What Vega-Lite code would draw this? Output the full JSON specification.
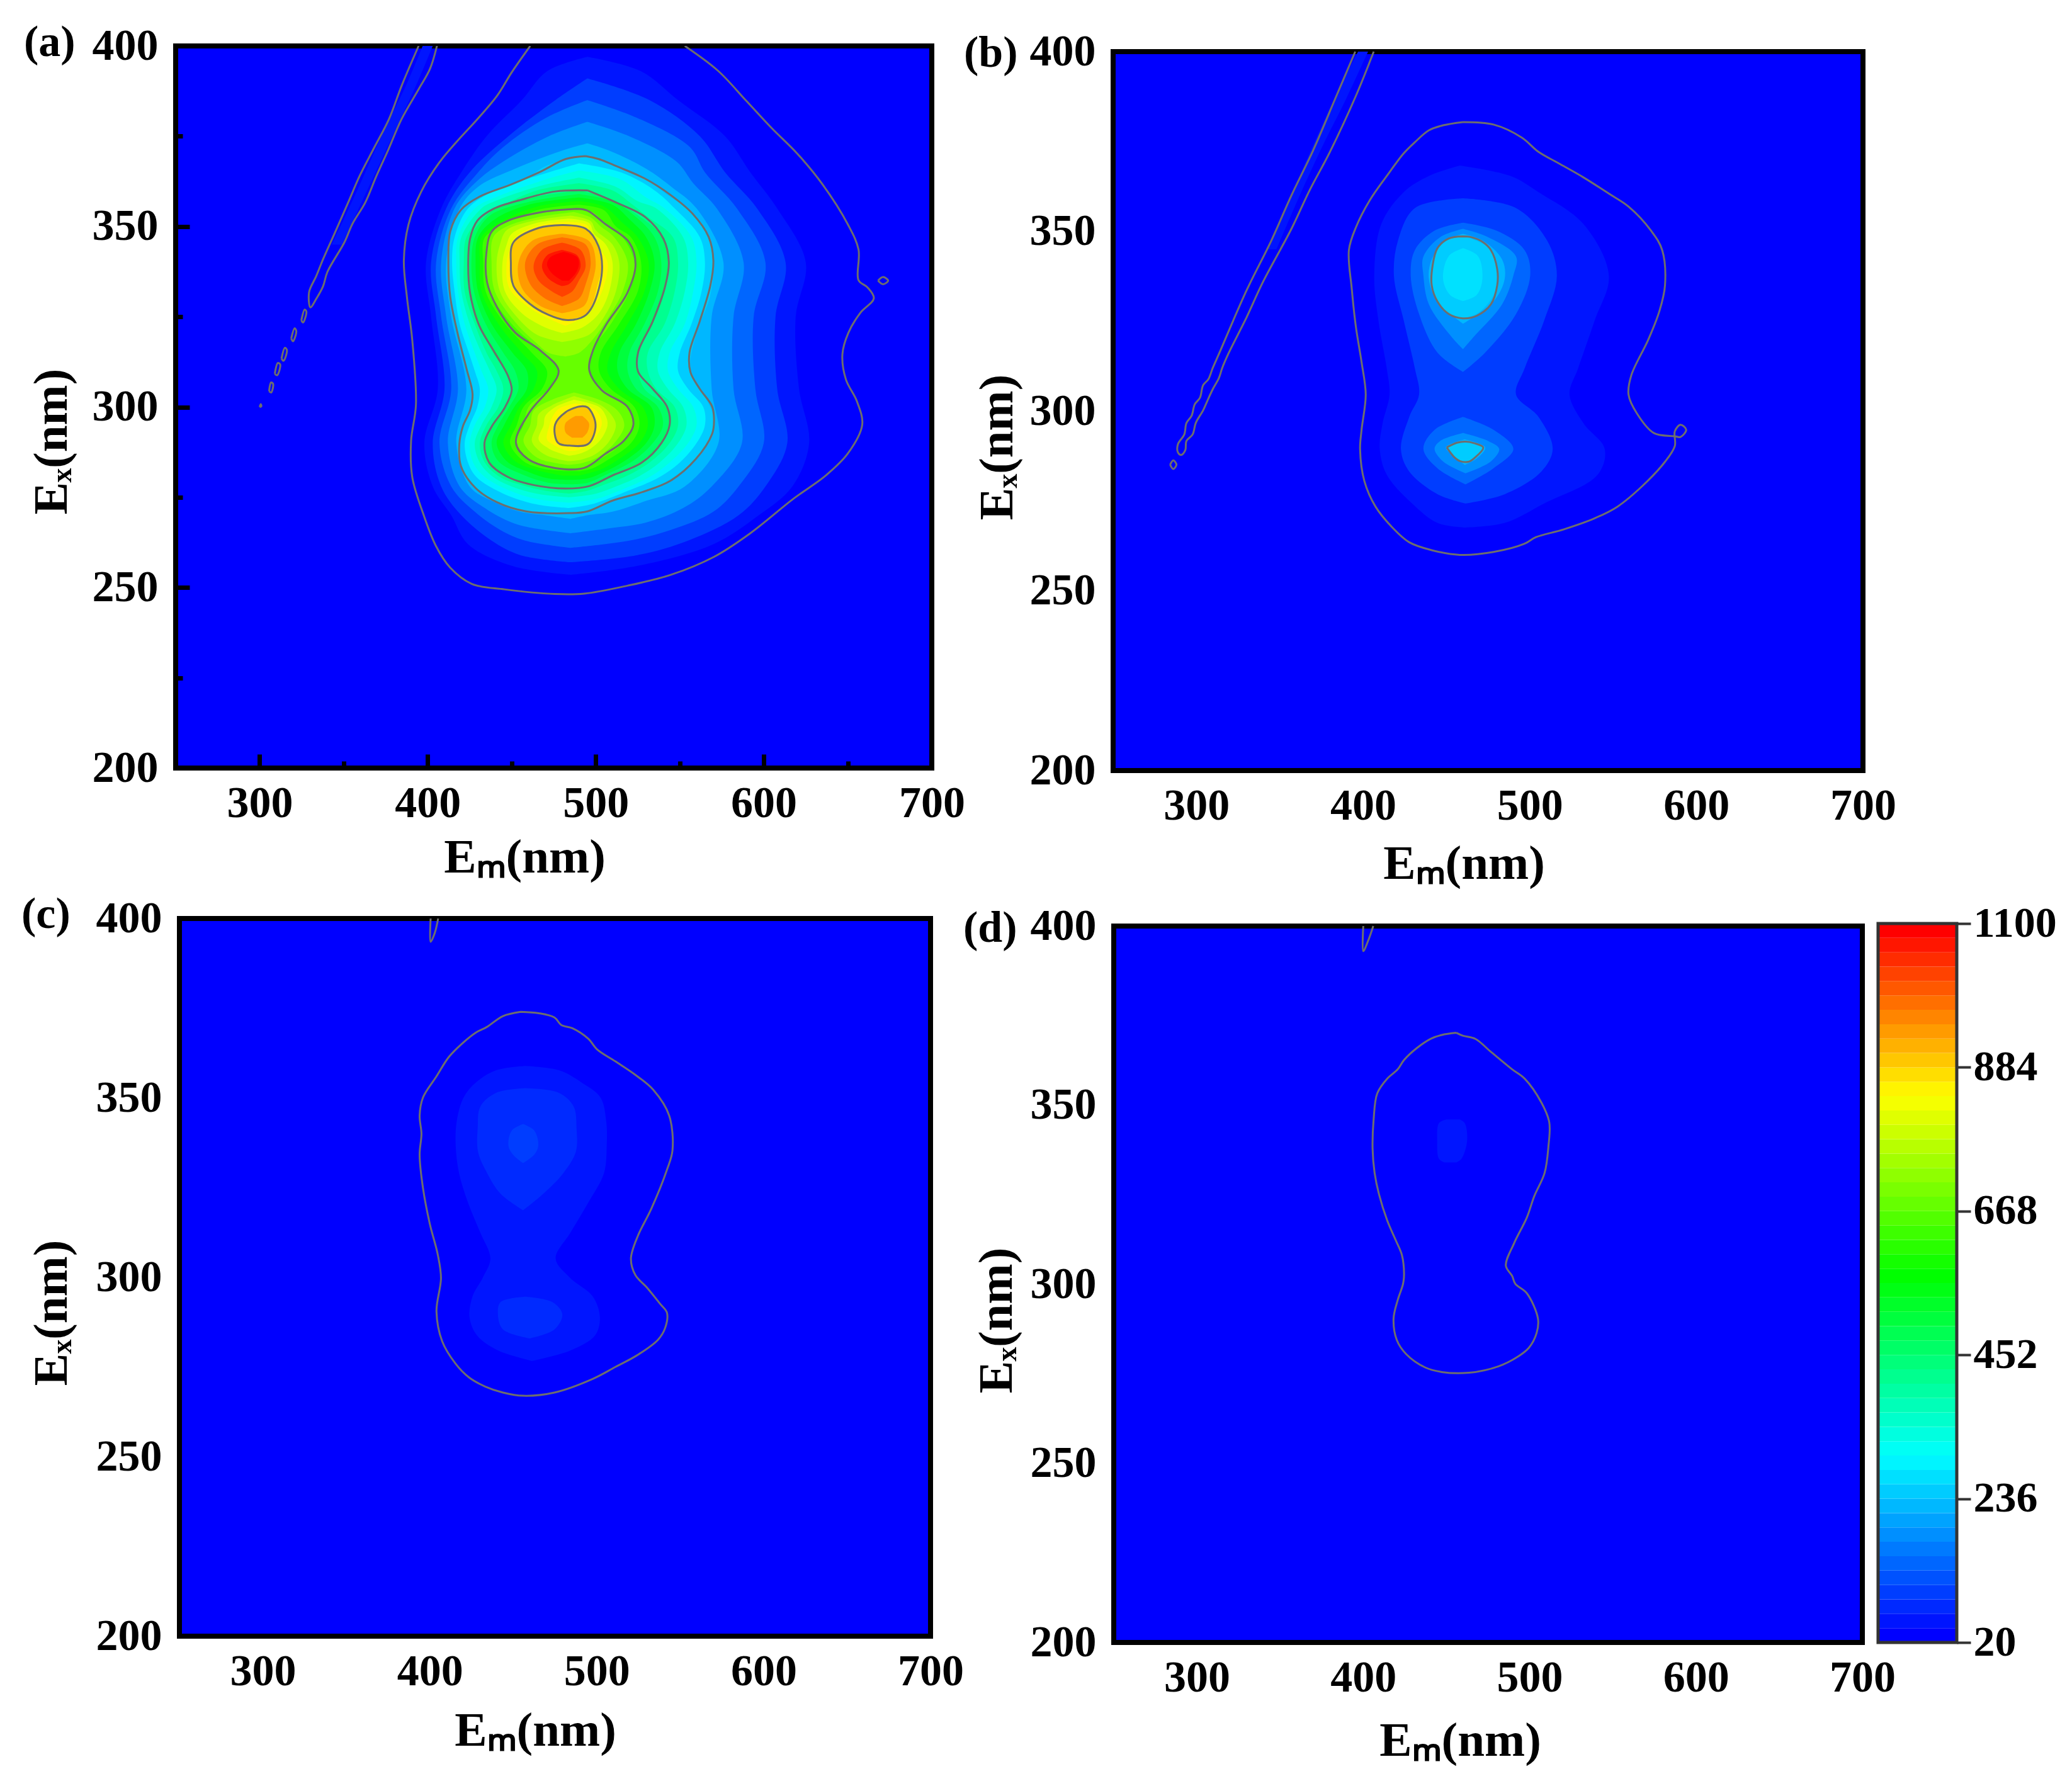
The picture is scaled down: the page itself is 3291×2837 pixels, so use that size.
{
"$schema":"https://vega.github.io/schema/vega-lite/v6.json",
"description":"Excitation-emission contour maps of four samples with a shared intensity colour bar.",
"background":"white",
"padding":{"left":34,"top":29,"right":0,"bottom":10},
"spacing":8,
"bounds":"full",
"align":"none",
"config":{
"view":{"fill":"#0000ff","stroke":"#000000","strokeWidth":8},
"axis":{"domain":false,"grid":false,"zindex":1,"tickColor":"#000000","tickWidth":7,"labelFont":"Liberation Serif","labelFontWeight":"bold","labelFontSize":70,"labelColor":"#000000","labelOverlap":false,"labelFlush":false,"labelBound":false,"titleFont":"Liberation Serif","titleFontWeight":"bold","titleFontSize":77,"titleColor":"#000000"},
"title":{"font":"Liberation Serif","fontWeight":"bold","fontSize":70,"color":"#000000","anchor":"start","frame":"group"},
"concat":{"spacing":0}
},
"datasets":{
"box":[{"x1":250,"x2":700,"y1":200,"y2":400}],
"barbox":[{"y1":20,"y2":1100}],
"bar":[{"z":20,"lo":20,"hi":41.6},{"z":41.6,"lo":41.6,"hi":63.2},{"z":63.2,"lo":63.2,"hi":84.8},{"z":84.8,"lo":84.8,"hi":106.4},{"z":106.4,"lo":106.4,"hi":128},{"z":128,"lo":128,"hi":149.6},{"z":149.6,"lo":149.6,"hi":171.2},{"z":171.2,"lo":171.2,"hi":192.8},{"z":192.8,"lo":192.8,"hi":214.4},{"z":214.4,"lo":214.4,"hi":236},{"z":236,"lo":236,"hi":257.6},{"z":257.6,"lo":257.6,"hi":279.2},{"z":279.2,"lo":279.2,"hi":300.8},{"z":300.8,"lo":300.8,"hi":322.4},{"z":322.4,"lo":322.4,"hi":344},{"z":344,"lo":344,"hi":365.6},{"z":365.6,"lo":365.6,"hi":387.2},{"z":387.2,"lo":387.2,"hi":408.8},{"z":408.8,"lo":408.8,"hi":430.4},{"z":430.4,"lo":430.4,"hi":452},{"z":452,"lo":452,"hi":473.6},{"z":473.6,"lo":473.6,"hi":495.2},{"z":495.2,"lo":495.2,"hi":516.8},{"z":516.8,"lo":516.8,"hi":538.4},{"z":538.4,"lo":538.4,"hi":560},{"z":560,"lo":560,"hi":581.6},{"z":581.6,"lo":581.6,"hi":603.2},{"z":603.2,"lo":603.2,"hi":624.8},{"z":624.8,"lo":624.8,"hi":646.4},{"z":646.4,"lo":646.4,"hi":668},{"z":668,"lo":668,"hi":689.6},{"z":689.6,"lo":689.6,"hi":711.2},{"z":711.2,"lo":711.2,"hi":732.8},{"z":732.8,"lo":732.8,"hi":754.4},{"z":754.4,"lo":754.4,"hi":776},{"z":776,"lo":776,"hi":797.6},{"z":797.6,"lo":797.6,"hi":819.2},{"z":819.2,"lo":819.2,"hi":840.8},{"z":840.8,"lo":840.8,"hi":862.4},{"z":862.4,"lo":862.4,"hi":884},{"z":884,"lo":884,"hi":905.6},{"z":905.6,"lo":905.6,"hi":927.2},{"z":927.2,"lo":927.2,"hi":948.8},{"z":948.8,"lo":948.8,"hi":970.4},{"z":970.4,"lo":970.4,"hi":992},{"z":992,"lo":992,"hi":1013.6},{"z":1013.6,"lo":1013.6,"hi":1035.2},{"z":1035.2,"lo":1035.2,"hi":1056.8},{"z":1056.8,"lo":1056.8,"hi":1078.4},{"z":1078.4,"lo":1078.4,"hi":1100}],
"fa":[
{"s":"r","z":42,"ex":345,"lo":343,"hi":349},{"s":"r","z":42,"ex":360,"lo":358,"hi":364},{"s":"r","z":42,"ex":375,"lo":372.5,"hi":379},{"s":"r","z":42,"ex":390,"lo":388,"hi":394},{"s":"r","z":42,"ex":400,"lo":397,"hi":403},
{"s":"42","z":42,"ex":397,"lo":495,"hi":495},{"s":"42","z":42,"ex":393,"lo":471,"hi":527},{"s":"42","z":42,"ex":385,"lo":456,"hi":549},{"s":"42","z":42,"ex":375,"lo":435,"hi":577},{"s":"42","z":42,"ex":365,"lo":420,"hi":592},{"s":"42","z":42,"ex":355,"lo":408,"hi":608},{"s":"42","z":42,"ex":340,"lo":399,"hi":625},{"s":"42","z":42,"ex":325,"lo":402,"hi":619},{"s":"42","z":42,"ex":305,"lo":406,"hi":621},{"s":"42","z":42,"ex":290,"lo":398,"hi":627},{"s":"42","z":42,"ex":278,"lo":403,"hi":617},{"s":"42","z":42,"ex":270,"lo":414,"hi":597},{"s":"42","z":42,"ex":262,"lo":424,"hi":570},{"s":"42","z":42,"ex":256,"lo":450,"hi":525},{"s":"42","z":42,"ex":253.5,"lo":485,"hi":485},
{"s":"85","z":85,"ex":391,"lo":495,"hi":495},{"s":"85","z":85,"ex":385,"lo":476,"hi":532},{"s":"85","z":85,"ex":375,"lo":448,"hi":562},{"s":"85","z":85,"ex":365,"lo":425,"hi":577},{"s":"85","z":85,"ex":355,"lo":411,"hi":596},{"s":"85","z":85,"ex":340,"lo":402,"hi":613},{"s":"85","z":85,"ex":325,"lo":405,"hi":607},{"s":"85","z":85,"ex":305,"lo":410,"hi":608},{"s":"85","z":85,"ex":290,"lo":403,"hi":614},{"s":"85","z":85,"ex":278,"lo":408,"hi":601},{"s":"85","z":85,"ex":270,"lo":420,"hi":585},{"s":"85","z":85,"ex":263,"lo":438,"hi":555},{"s":"85","z":85,"ex":259,"lo":455,"hi":525},{"s":"85","z":85,"ex":257,"lo":485,"hi":485},
{"s":"128","z":128,"ex":385,"lo":495,"hi":495},{"s":"128","z":128,"ex":380,"lo":470,"hi":525},{"s":"128","z":128,"ex":372,"lo":445,"hi":556},{"s":"128","z":128,"ex":365,"lo":430,"hi":565},{"s":"128","z":128,"ex":355,"lo":414,"hi":584},{"s":"128","z":128,"ex":340,"lo":405,"hi":601},{"s":"128","z":128,"ex":325,"lo":408,"hi":594},{"s":"128","z":128,"ex":305,"lo":414,"hi":595},{"s":"128","z":128,"ex":290,"lo":407,"hi":600},{"s":"128","z":128,"ex":278,"lo":414,"hi":585},{"s":"128","z":128,"ex":271,"lo":428,"hi":570},{"s":"128","z":128,"ex":266,"lo":443,"hi":545},{"s":"128","z":128,"ex":263,"lo":458,"hi":520},{"s":"128","z":128,"ex":261,"lo":485,"hi":485},
{"s":"171","z":171,"ex":379,"lo":495,"hi":495},{"s":"171","z":171,"ex":375,"lo":472,"hi":520},{"s":"171","z":171,"ex":368,"lo":445,"hi":548},{"s":"171","z":171,"ex":362,"lo":428,"hi":558},{"s":"171","z":171,"ex":355,"lo":416,"hi":572},{"s":"171","z":171,"ex":340,"lo":408,"hi":588},{"s":"171","z":171,"ex":325,"lo":411,"hi":582},{"s":"171","z":171,"ex":305,"lo":418,"hi":582},{"s":"171","z":171,"ex":290,"lo":412,"hi":587},{"s":"171","z":171,"ex":278,"lo":419,"hi":569},{"s":"171","z":171,"ex":272,"lo":434,"hi":552},{"s":"171","z":171,"ex":268,"lo":450,"hi":530},{"s":"171","z":171,"ex":266.5,"lo":462,"hi":510},{"s":"171","z":171,"ex":265,"lo":485,"hi":485},
{"s":"214","z":214,"ex":373,"lo":495,"hi":495},{"s":"214","z":214,"ex":371,"lo":480,"hi":508},{"s":"214","z":214,"ex":366,"lo":452,"hi":530},{"s":"214","z":214,"ex":361,"lo":430,"hi":545},{"s":"214","z":214,"ex":355,"lo":419,"hi":560},{"s":"214","z":214,"ex":340,"lo":411,"hi":576},{"s":"214","z":214,"ex":325,"lo":414,"hi":569},{"s":"214","z":214,"ex":305,"lo":423,"hi":569},{"s":"214","z":214,"ex":290,"lo":417,"hi":573},{"s":"214","z":214,"ex":278,"lo":425,"hi":553},{"s":"214","z":214,"ex":274,"lo":438,"hi":530},{"s":"214","z":214,"ex":271,"lo":455,"hi":510},{"s":"214","z":214,"ex":270,"lo":470,"hi":495},{"s":"214","z":214,"ex":269,"lo":485,"hi":485},
{"s":"236","z":236,"ex":369.5,"lo":494,"hi":494},{"s":"236","z":236,"ex":366.7,"lo":470,"hi":512},{"s":"236","z":236,"ex":363,"lo":458,"hi":530},{"s":"236","z":236,"ex":358,"lo":430,"hi":545},{"s":"236","z":236,"ex":354.6,"lo":420,"hi":556},{"s":"236","z":236,"ex":348.6,"lo":413.4,"hi":566},{"s":"236","z":236,"ex":340.6,"lo":412.3,"hi":570},{"s":"236","z":236,"ex":330.6,"lo":413.4,"hi":568},{"s":"236","z":236,"ex":320.6,"lo":417.7,"hi":560},{"s":"236","z":236,"ex":310.6,"lo":423,"hi":556.4},{"s":"236","z":236,"ex":303.6,"lo":426.7,"hi":564},{"s":"236","z":236,"ex":299,"lo":425,"hi":569},{"s":"236","z":236,"ex":294.6,"lo":421,"hi":570},{"s":"236","z":236,"ex":289.6,"lo":419,"hi":566},{"s":"236","z":236,"ex":283.6,"lo":420,"hi":555},{"s":"236","z":236,"ex":277.6,"lo":428,"hi":535},{"s":"236","z":236,"ex":274,"lo":441,"hi":510},{"s":"236","z":236,"ex":271,"lo":458,"hi":495},{"s":"236","z":236,"ex":270.6,"lo":484,"hi":484},
{"s":"279","z":279,"ex":367.5,"lo":490,"hi":490},{"s":"279","z":279,"ex":365,"lo":472,"hi":515},{"s":"279","z":279,"ex":360,"lo":440,"hi":535},{"s":"279","z":279,"ex":355,"lo":424,"hi":547},{"s":"279","z":279,"ex":347,"lo":416,"hi":562},{"s":"279","z":279,"ex":340,"lo":414.5,"hi":565},{"s":"279","z":279,"ex":332,"lo":416,"hi":563},{"s":"279","z":279,"ex":323,"lo":419,"hi":557},{"s":"279","z":279,"ex":315,"lo":424.5,"hi":550},{"s":"279","z":279,"ex":310,"lo":428,"hi":549},{"s":"279","z":279,"ex":305,"lo":431,"hi":555},{"s":"279","z":279,"ex":300,"lo":429.5,"hi":564},{"s":"279","z":279,"ex":295,"lo":425,"hi":565},{"s":"279","z":279,"ex":290,"lo":422,"hi":560},{"s":"279","z":279,"ex":284.6,"lo":424,"hi":550},{"s":"279","z":279,"ex":280.6,"lo":429,"hi":538},{"s":"279","z":279,"ex":276,"lo":445,"hi":515},{"s":"279","z":279,"ex":273,"lo":465,"hi":497},{"s":"279","z":279,"ex":272,"lo":484,"hi":484},
{"s":"322","z":322,"ex":365.5,"lo":490,"hi":490},{"s":"322","z":322,"ex":363,"lo":470,"hi":515},{"s":"322","z":322,"ex":358,"lo":440,"hi":530},{"s":"322","z":322,"ex":355,"lo":428,"hi":541},{"s":"322","z":322,"ex":347,"lo":418,"hi":557},{"s":"322","z":322,"ex":340,"lo":417,"hi":560},{"s":"322","z":322,"ex":332,"lo":418,"hi":558},{"s":"322","z":322,"ex":323,"lo":422,"hi":553},{"s":"322","z":322,"ex":315,"lo":428,"hi":544},{"s":"322","z":322,"ex":310,"lo":432,"hi":543},{"s":"322","z":322,"ex":305,"lo":436,"hi":549},{"s":"322","z":322,"ex":300,"lo":434,"hi":558},{"s":"322","z":322,"ex":295,"lo":428,"hi":560},{"s":"322","z":322,"ex":290,"lo":425,"hi":555},{"s":"322","z":322,"ex":284.6,"lo":427,"hi":544},{"s":"322","z":322,"ex":280.6,"lo":434,"hi":532},{"s":"322","z":322,"ex":277,"lo":448,"hi":515},{"s":"322","z":322,"ex":274.5,"lo":465,"hi":500},{"s":"322","z":322,"ex":273.5,"lo":484,"hi":484},
{"s":"365","z":365,"ex":363.5,"lo":490,"hi":490},{"s":"365","z":365,"ex":361,"lo":465,"hi":512},{"s":"365","z":365,"ex":357,"lo":440,"hi":525},{"s":"365","z":365,"ex":355,"lo":432,"hi":536},{"s":"365","z":365,"ex":347,"lo":420,"hi":552},{"s":"365","z":365,"ex":340,"lo":419,"hi":555},{"s":"365","z":365,"ex":332,"lo":420,"hi":553},{"s":"365","z":365,"ex":323,"lo":425,"hi":547},{"s":"365","z":365,"ex":315,"lo":432,"hi":538},{"s":"365","z":365,"ex":310,"lo":437,"hi":537},{"s":"365","z":365,"ex":305,"lo":441,"hi":543},{"s":"365","z":365,"ex":300,"lo":438,"hi":552},{"s":"365","z":365,"ex":295,"lo":432,"hi":554},{"s":"365","z":365,"ex":290,"lo":428,"hi":549},{"s":"365","z":365,"ex":284.6,"lo":431,"hi":538},{"s":"365","z":365,"ex":280.6,"lo":439,"hi":525},{"s":"365","z":365,"ex":278,"lo":450,"hi":512},{"s":"365","z":365,"ex":276,"lo":465,"hi":500},{"s":"365","z":365,"ex":275,"lo":484,"hi":484},
{"s":"408","z":408,"ex":362,"lo":490,"hi":490},{"s":"408","z":408,"ex":360,"lo":465,"hi":510},{"s":"408","z":408,"ex":356,"lo":445,"hi":522},{"s":"408","z":408,"ex":353,"lo":433,"hi":530},{"s":"408","z":408,"ex":347,"lo":423,"hi":546},{"s":"408","z":408,"ex":340,"lo":421.5,"hi":549},{"s":"408","z":408,"ex":332,"lo":422,"hi":547},{"s":"408","z":408,"ex":323,"lo":428,"hi":541},{"s":"408","z":408,"ex":315,"lo":435,"hi":531},{"s":"408","z":408,"ex":310,"lo":441,"hi":531},{"s":"408","z":408,"ex":305,"lo":445,"hi":536},{"s":"408","z":408,"ex":300,"lo":442,"hi":547},{"s":"408","z":408,"ex":295,"lo":435,"hi":549},{"s":"408","z":408,"ex":290,"lo":431,"hi":544},{"s":"408","z":408,"ex":284.6,"lo":434,"hi":532},{"s":"408","z":408,"ex":280.6,"lo":443,"hi":517},{"s":"408","z":408,"ex":278.5,"lo":455,"hi":505},{"s":"408","z":408,"ex":276.8,"lo":470,"hi":495},{"s":"408","z":408,"ex":276,"lo":484,"hi":484},
{"s":"452","z":452,"ex":360,"lo":490,"hi":490},{"s":"452","z":452,"ex":357.5,"lo":456,"hi":510},{"s":"452","z":452,"ex":355,"lo":440,"hi":519},{"s":"452","z":452,"ex":347,"lo":425.5,"hi":540},{"s":"452","z":452,"ex":340,"lo":424,"hi":543.5},{"s":"452","z":452,"ex":332,"lo":425,"hi":541},{"s":"452","z":452,"ex":323,"lo":430.6,"hi":534},{"s":"452","z":452,"ex":315,"lo":439,"hi":525},{"s":"452","z":452,"ex":310,"lo":446,"hi":525},{"s":"452","z":452,"ex":305,"lo":450,"hi":529},{"s":"452","z":452,"ex":300,"lo":445.6,"hi":542},{"s":"452","z":452,"ex":295,"lo":438,"hi":544},{"s":"452","z":452,"ex":290,"lo":434,"hi":539},{"s":"452","z":452,"ex":284.6,"lo":437,"hi":527},{"s":"452","z":452,"ex":280.6,"lo":448,"hi":510},{"s":"452","z":452,"ex":278,"lo":470,"hi":496},{"s":"452","z":452,"ex":277.4,"lo":482,"hi":482},
{"s":"495","z":495,"ex":359,"lo":490,"hi":490},{"s":"495","z":495,"ex":357,"lo":462,"hi":510},{"s":"495","z":495,"ex":353,"lo":437,"hi":523},{"s":"495","z":495,"ex":347,"lo":428,"hi":535},{"s":"495","z":495,"ex":340,"lo":426,"hi":539},{"s":"495","z":495,"ex":332,"lo":427.5,"hi":537},{"s":"495","z":495,"ex":323,"lo":434.5,"hi":529},{"s":"495","z":495,"ex":315,"lo":445,"hi":520},{"s":"495","z":495,"ex":310,"lo":452,"hi":519},{"s":"495","z":495,"ex":305,"lo":454,"hi":524},{"s":"495","z":495,"ex":300,"lo":448.5,"hi":537},{"s":"495","z":495,"ex":295,"lo":442,"hi":540},{"s":"495","z":495,"ex":290,"lo":438,"hi":534},{"s":"495","z":495,"ex":285,"lo":442,"hi":522},{"s":"495","z":495,"ex":281,"lo":458,"hi":505},{"s":"495","z":495,"ex":279,"lo":472,"hi":495},{"s":"495","z":495,"ex":278.6,"lo":484,"hi":484},
{"s":"538","z":538,"ex":358,"lo":490,"hi":490},{"s":"538","z":538,"ex":356,"lo":460,"hi":510},{"s":"538","z":538,"ex":352,"lo":440,"hi":520},{"s":"538","z":538,"ex":347,"lo":430,"hi":530},{"s":"538","z":538,"ex":340,"lo":428.5,"hi":535},{"s":"538","z":538,"ex":332,"lo":430,"hi":532},{"s":"538","z":538,"ex":323,"lo":438,"hi":524},{"s":"538","z":538,"ex":315,"lo":450.5,"hi":514},{"s":"538","z":538,"ex":310,"lo":459,"hi":513},{"s":"538","z":538,"ex":305,"lo":459,"hi":519},{"s":"538","z":538,"ex":300,"lo":451.5,"hi":533},{"s":"538","z":538,"ex":295,"lo":445.5,"hi":535},{"s":"538","z":538,"ex":290,"lo":441,"hi":530},{"s":"538","z":538,"ex":285,"lo":447,"hi":517},{"s":"538","z":538,"ex":282,"lo":460,"hi":505},{"s":"538","z":538,"ex":280.2,"lo":472,"hi":495},{"s":"538","z":538,"ex":279.8,"lo":484,"hi":484},
{"s":"581","z":581,"ex":357,"lo":490,"hi":490},{"s":"581","z":581,"ex":355.5,"lo":465,"hi":505},{"s":"581","z":581,"ex":351,"lo":442,"hi":516},{"s":"581","z":581,"ex":347,"lo":432,"hi":525},{"s":"581","z":581,"ex":340,"lo":431,"hi":531.5},{"s":"581","z":581,"ex":332,"lo":432,"hi":529},{"s":"581","z":581,"ex":323,"lo":442,"hi":519},{"s":"581","z":581,"ex":315,"lo":456,"hi":509},{"s":"581","z":581,"ex":310,"lo":465,"hi":507},{"s":"581","z":581,"ex":305,"lo":463,"hi":514},{"s":"581","z":581,"ex":300,"lo":454.5,"hi":528},{"s":"581","z":581,"ex":295,"lo":449.5,"hi":531},{"s":"581","z":581,"ex":290,"lo":445,"hi":526},{"s":"581","z":581,"ex":285,"lo":452,"hi":512},{"s":"581","z":581,"ex":282.5,"lo":465,"hi":502},{"s":"581","z":581,"ex":281,"lo":480,"hi":490},
{"s":"625","z":625,"ex":356,"lo":490,"hi":490},{"s":"625","z":625,"ex":354.5,"lo":465,"hi":505},{"s":"625","z":625,"ex":350,"lo":445,"hi":512},{"s":"625","z":625,"ex":347,"lo":434,"hi":521},{"s":"625","z":625,"ex":340,"lo":433,"hi":527},{"s":"625","z":625,"ex":332,"lo":434.5,"hi":525},{"s":"625","z":625,"ex":323,"lo":446,"hi":514},{"s":"625","z":625,"ex":315,"lo":462,"hi":503},{"s":"625","z":625,"ex":310,"lo":471,"hi":502},{"s":"625","z":625,"ex":305,"lo":468,"hi":509},{"s":"625","z":625,"ex":300,"lo":457,"hi":523},{"s":"625","z":625,"ex":295,"lo":453,"hi":526},{"s":"625","z":625,"ex":290,"lo":449,"hi":521},{"s":"625","z":625,"ex":285,"lo":457,"hi":506},{"s":"625","z":625,"ex":283,"lo":468,"hi":498},{"s":"625","z":625,"ex":282.2,"lo":482,"hi":490},
{"s":"668","z":668,"ex":354.9,"lo":489,"hi":489},{"s":"668","z":668,"ex":354,"lo":469,"hi":498},{"s":"668","z":668,"ex":351.6,"lo":448,"hi":504},{"s":"668","z":668,"ex":347,"lo":436,"hi":516},{"s":"668","z":668,"ex":340,"lo":435,"hi":523},{"s":"668","z":668,"ex":332,"lo":437,"hi":520},{"s":"668","z":668,"ex":323,"lo":450,"hi":509},{"s":"668","z":668,"ex":315.6,"lo":467,"hi":498},{"s":"668","z":668,"ex":310,"lo":478,"hi":496},{"s":"668","z":668,"ex":305,"lo":472,"hi":504},{"s":"668","z":668,"ex":300,"lo":460,"hi":519},{"s":"668","z":668,"ex":295,"lo":457,"hi":522},{"s":"668","z":668,"ex":290,"lo":452.5,"hi":516},{"s":"668","z":668,"ex":285.6,"lo":460,"hi":503},{"s":"668","z":668,"ex":283.1,"lo":476,"hi":493},
{"s":"711u","z":711,"ex":354,"lo":487,"hi":487},{"s":"711u","z":711,"ex":352.5,"lo":465,"hi":497},{"s":"711u","z":711,"ex":350,"lo":447,"hi":503},{"s":"711u","z":711,"ex":347,"lo":439,"hi":511},{"s":"711u","z":711,"ex":340,"lo":438,"hi":519},{"s":"711u","z":711,"ex":332,"lo":440,"hi":516},{"s":"711u","z":711,"ex":323,"lo":453,"hi":505},{"s":"711u","z":711,"ex":318,"lo":464,"hi":497},{"s":"711u","z":711,"ex":315,"lo":472,"hi":490},{"s":"711u","z":711,"ex":314,"lo":482,"hi":482},
{"s":"711l","z":711,"ex":304,"lo":487,"hi":487},{"s":"711l","z":711,"ex":302,"lo":474,"hi":502},{"s":"711l","z":711,"ex":299,"lo":463,"hi":513},{"s":"711l","z":711,"ex":295,"lo":461,"hi":517},{"s":"711l","z":711,"ex":290.5,"lo":457,"hi":512},{"s":"711l","z":711,"ex":286,"lo":465,"hi":501},{"s":"711l","z":711,"ex":284.5,"lo":476,"hi":492},{"s":"711l","z":711,"ex":284,"lo":484,"hi":484},
{"s":"754u","z":754,"ex":353,"lo":485,"hi":485},{"s":"754u","z":754,"ex":351.5,"lo":462,"hi":497},{"s":"754u","z":754,"ex":349,"lo":447,"hi":500},{"s":"754u","z":754,"ex":345,"lo":443,"hi":510},{"s":"754u","z":754,"ex":340,"lo":441,"hi":514},{"s":"754u","z":754,"ex":332,"lo":443,"hi":512},{"s":"754u","z":754,"ex":325,"lo":453,"hi":505},{"s":"754u","z":754,"ex":320,"lo":465,"hi":496},{"s":"754u","z":754,"ex":318,"lo":480,"hi":480},
{"s":"754l","z":754,"ex":303,"lo":487,"hi":487},{"s":"754l","z":754,"ex":300.5,"lo":474,"hi":503},{"s":"754l","z":754,"ex":298,"lo":466,"hi":509},{"s":"754l","z":754,"ex":295,"lo":465,"hi":512},{"s":"754l","z":754,"ex":290.5,"lo":462,"hi":508},{"s":"754l","z":754,"ex":287,"lo":469,"hi":500},{"s":"754l","z":754,"ex":285.5,"lo":478,"hi":492},{"s":"754l","z":754,"ex":285,"lo":484,"hi":484},
{"s":"798u","z":798,"ex":352.2,"lo":484,"hi":484},{"s":"798u","z":798,"ex":351,"lo":465,"hi":496},{"s":"798u","z":798,"ex":348,"lo":450,"hi":499},{"s":"798u","z":798,"ex":345,"lo":447,"hi":506},{"s":"798u","z":798,"ex":340,"lo":444.5,"hi":510},{"s":"798u","z":798,"ex":332,"lo":446,"hi":508},{"s":"798u","z":798,"ex":326,"lo":456,"hi":502},{"s":"798u","z":798,"ex":322,"lo":470,"hi":492},{"s":"798u","z":798,"ex":320.5,"lo":480,"hi":480},
{"s":"798l","z":798,"ex":302,"lo":487,"hi":487},{"s":"798l","z":798,"ex":300,"lo":476,"hi":502},{"s":"798l","z":798,"ex":297.5,"lo":470,"hi":506},{"s":"798l","z":798,"ex":295,"lo":469,"hi":507},{"s":"798l","z":798,"ex":291,"lo":466,"hi":503},{"s":"798l","z":798,"ex":288.5,"lo":472,"hi":497},{"s":"798l","z":798,"ex":287,"lo":480,"hi":490},{"s":"798l","z":798,"ex":286.5,"lo":484,"hi":484},
{"s":"841u","z":841,"ex":351.3,"lo":482,"hi":482},{"s":"841u","z":841,"ex":350.3,"lo":466,"hi":495},{"s":"841u","z":841,"ex":347,"lo":452,"hi":497},{"s":"841u","z":841,"ex":344,"lo":449,"hi":502},{"s":"841u","z":841,"ex":340,"lo":447,"hi":507},{"s":"841u","z":841,"ex":333,"lo":448.5,"hi":504.5},{"s":"841u","z":841,"ex":328,"lo":459,"hi":499},{"s":"841u","z":841,"ex":324.5,"lo":472,"hi":491},{"s":"841u","z":841,"ex":322.5,"lo":482,"hi":482},
{"s":"841l","z":841,"ex":301,"lo":488,"hi":488},{"s":"841l","z":841,"ex":299.5,"lo":478,"hi":499},{"s":"841l","z":841,"ex":297,"lo":474,"hi":503},{"s":"841l","z":841,"ex":295,"lo":472.5,"hi":503.5},{"s":"841l","z":841,"ex":291,"lo":471,"hi":499},{"s":"841l","z":841,"ex":289.5,"lo":475,"hi":496},{"s":"841l","z":841,"ex":288,"lo":482,"hi":489},{"s":"841l","z":841,"ex":287.8,"lo":484,"hi":484},
{"s":"884u","z":884,"ex":350.4,"lo":480,"hi":480},{"s":"884u","z":884,"ex":349.6,"lo":466,"hi":494},{"s":"884u","z":884,"ex":345.6,"lo":451,"hi":500.5},{"s":"884u","z":884,"ex":339.6,"lo":449.5,"hi":503.7},{"s":"884u","z":884,"ex":333.6,"lo":451,"hi":501},{"s":"884u","z":884,"ex":328.6,"lo":461,"hi":498},{"s":"884u","z":884,"ex":325.6,"lo":471.5,"hi":494},{"s":"884u","z":884,"ex":324.1,"lo":482,"hi":482},
{"s":"884l","z":884,"ex":300.1,"lo":490,"hi":494},{"s":"884l","z":884,"ex":298.6,"lo":482,"hi":497},{"s":"884l","z":884,"ex":295,"lo":475.8,"hi":500},{"s":"884l","z":884,"ex":290,"lo":477.5,"hi":495.6},{"s":"884l","z":884,"ex":289.3,"lo":484,"hi":490},
{"s":"927l","z":927,"ex":297.5,"lo":488,"hi":492},{"s":"927l","z":927,"ex":295.5,"lo":482,"hi":496},{"s":"927l","z":927,"ex":293,"lo":482,"hi":495},{"s":"927l","z":927,"ex":291.5,"lo":486,"hi":492},
{"s":"927u","z":927,"ex":348,"lo":480,"hi":480},{"s":"927u","z":927,"ex":346,"lo":462,"hi":496},{"s":"927u","z":927,"ex":340,"lo":454,"hi":500},{"s":"927u","z":927,"ex":333,"lo":456,"hi":497},{"s":"927u","z":927,"ex":328,"lo":467,"hi":493},{"s":"927u","z":927,"ex":326,"lo":480,"hi":480},
{"s":"970","z":970,"ex":347,"lo":480,"hi":480},{"s":"970","z":970,"ex":345,"lo":465,"hi":494},{"s":"970","z":970,"ex":340,"lo":458,"hi":497},{"s":"970","z":970,"ex":334,"lo":461,"hi":494},{"s":"970","z":970,"ex":330,"lo":470,"hi":490},{"s":"970","z":970,"ex":328,"lo":480,"hi":480},
{"s":"1014","z":1014,"ex":345.5,"lo":480,"hi":480},{"s":"1014","z":1014,"ex":343.5,"lo":468,"hi":491},{"s":"1014","z":1014,"ex":339,"lo":463,"hi":494},{"s":"1014","z":1014,"ex":335,"lo":466,"hi":490},{"s":"1014","z":1014,"ex":332,"lo":474,"hi":486},{"s":"1014","z":1014,"ex":330.5,"lo":480,"hi":480},
{"s":"1057","z":1057,"ex":343.5,"lo":480,"hi":480},{"s":"1057","z":1057,"ex":342,"lo":471,"hi":489},{"s":"1057","z":1057,"ex":339,"lo":468,"hi":491},{"s":"1057","z":1057,"ex":336,"lo":471,"hi":488},{"s":"1057","z":1057,"ex":334,"lo":477,"hi":484},{"s":"1057","z":1057,"ex":333.5,"lo":480,"hi":480},
{"s":"1079","z":1079,"ex":343,"lo":481,"hi":481},{"s":"1079","z":1079,"ex":341.5,"lo":473,"hi":489},{"s":"1079","z":1079,"ex":339.5,"lo":471,"hi":490},{"s":"1079","z":1079,"ex":337,"lo":474,"hi":488},{"s":"1079","z":1079,"ex":335,"lo":480,"hi":484}
],
"fb":[
{"s":"r","z":42,"ex":345,"lo":343,"hi":348},{"s":"r","z":42,"ex":360,"lo":357,"hi":362},{"s":"r","z":42,"ex":375,"lo":371,"hi":377},{"s":"r","z":42,"ex":387,"lo":383,"hi":390},{"s":"r","z":42,"ex":400,"lo":397,"hi":403},
{"s":"42","z":42,"ex":368.3,"lo":458,"hi":458},{"s":"42","z":42,"ex":365.4,"lo":439.5,"hi":488.5},{"s":"42","z":42,"ex":360.9,"lo":424.4,"hi":505.3},{"s":"42","z":42,"ex":352,"lo":410.9,"hi":532.3},{"s":"42","z":42,"ex":337.7,"lo":406.7,"hi":547.5},{"s":"42","z":42,"ex":325.2,"lo":409.2,"hi":539},{"s":"42","z":42,"ex":311.8,"lo":414.2,"hi":529},{"s":"42","z":42,"ex":304.6,"lo":415.9,"hi":523.9},{"s":"42","z":42,"ex":296.6,"lo":411.7,"hi":532.3},{"s":"42","z":42,"ex":289.5,"lo":410,"hi":545},{"s":"42","z":42,"ex":282.3,"lo":414.2,"hi":540.8},{"s":"42","z":42,"ex":274.3,"lo":429.4,"hi":508.7},{"s":"42","z":42,"ex":268.9,"lo":444.6,"hi":485.1},{"s":"42","z":42,"ex":267.6,"lo":461.5,"hi":461.5},
{"s":"85","z":85,"ex":359.2,"lo":460,"hi":460},{"s":"85","z":85,"ex":356.5,"lo":431.1,"hi":491.8},{"s":"85","z":85,"ex":347.5,"lo":421,"hi":510.4},{"s":"85","z":85,"ex":337.7,"lo":418.5,"hi":516.3},{"s":"85","z":85,"ex":325.2,"lo":424.4,"hi":508.7},{"s":"85","z":85,"ex":311.8,"lo":431.1,"hi":496.9},{"s":"85","z":85,"ex":304.6,"lo":433.6,"hi":491.8},{"s":"85","z":85,"ex":298.4,"lo":427.7,"hi":505.3},{"s":"85","z":85,"ex":289.5,"lo":422.7,"hi":513.8},{"s":"85","z":85,"ex":283.2,"lo":427.7,"hi":507},{"s":"85","z":85,"ex":276.9,"lo":444.6,"hi":485.1},{"s":"85","z":85,"ex":274.3,"lo":461.5,"hi":461.5},
{"s":"128u","z":128,"ex":352.4,"lo":460,"hi":460},{"s":"128u","z":128,"ex":350.2,"lo":442.9,"hi":480},{"s":"128u","z":128,"ex":344.8,"lo":431.1,"hi":496.9},{"s":"128u","z":128,"ex":337.7,"lo":428.6,"hi":500.3},{"s":"128u","z":128,"ex":327,"lo":433.6,"hi":491.8},{"s":"128u","z":128,"ex":316.3,"lo":444.6,"hi":473.3},{"s":"128u","z":128,"ex":310.9,"lo":460,"hi":460},
{"s":"128l","z":128,"ex":298.4,"lo":460,"hi":460},{"s":"128l","z":128,"ex":294.8,"lo":442.9,"hi":478.3},{"s":"128l","z":128,"ex":289.5,"lo":436.2,"hi":490.2},{"s":"128l","z":128,"ex":284.1,"lo":444.6,"hi":478.3},{"s":"128l","z":128,"ex":279.6,"lo":461.5,"hi":461.5},
{"s":"171u","z":171,"ex":350.7,"lo":460,"hi":460},{"s":"171u","z":171,"ex":348.4,"lo":446.3,"hi":475},{"s":"171u","z":171,"ex":343,"lo":436.2,"hi":491.8},{"s":"171u","z":171,"ex":337.7,"lo":436.2,"hi":490.2},{"s":"171u","z":171,"ex":329.7,"lo":439.5,"hi":483.4},{"s":"171u","z":171,"ex":320.7,"lo":453,"hi":466.5},{"s":"171u","z":171,"ex":317.2,"lo":460,"hi":460},
{"s":"171l","z":171,"ex":293.9,"lo":460,"hi":460},{"s":"171l","z":171,"ex":291.7,"lo":446.3,"hi":475},{"s":"171l","z":171,"ex":289.5,"lo":442.9,"hi":481.7},{"s":"171l","z":171,"ex":286,"lo":448,"hi":476.7},{"s":"171l","z":171,"ex":282.7,"lo":461.5,"hi":461.5},
{"s":"214u","z":214,"ex":349.3,"lo":460,"hi":460},{"s":"214u","z":214,"ex":347.5,"lo":449.7,"hi":471.6},{"s":"214u","z":214,"ex":342.2,"lo":441.2,"hi":483.4},{"s":"214u","z":214,"ex":336.8,"lo":439.5,"hi":485},{"s":"214u","z":214,"ex":330.5,"lo":444.6,"hi":478.3},{"s":"214u","z":214,"ex":324.3,"lo":460,"hi":460},
{"s":"214l","z":214,"ex":292.1,"lo":461,"hi":461},{"s":"214l","z":214,"ex":289.9,"lo":449.7,"hi":473.3},{"s":"214l","z":214,"ex":286.8,"lo":456.4,"hi":468.2},{"s":"214l","z":214,"ex":285,"lo":461,"hi":461},
{"s":"236u","z":236,"ex":348.6,"lo":459.8,"hi":459.8},{"s":"236u","z":236,"ex":348,"lo":451.4,"hi":464.8},{"s":"236u","z":236,"ex":345.3,"lo":444.6,"hi":475.5},{"s":"236u","z":236,"ex":340.4,"lo":441.7,"hi":480},{"s":"236u","z":236,"ex":335,"lo":441.2,"hi":480.5},{"s":"236u","z":236,"ex":330.5,"lo":444.6,"hi":476},{"s":"236u","z":236,"ex":327,"lo":451.4,"hi":468},{"s":"236u","z":236,"ex":325.8,"lo":459.8,"hi":459.8},
{"s":"236l","z":236,"ex":291.5,"lo":461.5,"hi":461.5},{"s":"236l","z":236,"ex":290.9,"lo":455,"hi":468},{"s":"236l","z":236,"ex":289.9,"lo":450.2,"hi":472.1},{"s":"236l","z":236,"ex":287.2,"lo":454.7,"hi":468.5},{"s":"236l","z":236,"ex":285.9,"lo":458,"hi":463.2},
{"s":"258","z":258,"ex":345.3,"lo":460,"hi":460},{"s":"258","z":258,"ex":343.1,"lo":451.4,"hi":469},{"s":"258","z":258,"ex":336.8,"lo":448,"hi":471.6},{"s":"258","z":258,"ex":332.3,"lo":452.2,"hi":468.2},{"s":"258","z":258,"ex":330.6,"lo":460,"hi":460}
],
"fc":[
{"s":"42","z":42,"ex":358.9,"lo":457.2,"hi":457.2},{"s":"42","z":42,"ex":357.7,"lo":439.7,"hi":477.4},{"s":"42","z":42,"ex":354.3,"lo":427.6,"hi":490.9},{"s":"42","z":42,"ex":350.1,"lo":420.2,"hi":502.3},{"s":"42","z":42,"ex":343.4,"lo":416.1,"hi":505.7},{"s":"42","z":42,"ex":336.7,"lo":415.5,"hi":506},{"s":"42","z":42,"ex":329.1,"lo":417.5,"hi":504.4},{"s":"42","z":42,"ex":320.8,"lo":422.9,"hi":494.9},{"s":"42","z":42,"ex":312.4,"lo":430.3,"hi":484.2},{"s":"42","z":42,"ex":305.2,"lo":436.3,"hi":475.4},{"s":"42","z":42,"ex":299.8,"lo":431.6,"hi":484.2},{"s":"42","z":42,"ex":294.7,"lo":425.6,"hi":497.6},{"s":"42","z":42,"ex":288.9,"lo":423.8,"hi":501.9},{"s":"42","z":42,"ex":283.8,"lo":428.3,"hi":499},{"s":"42","z":42,"ex":279.6,"lo":441,"hi":484.2},{"s":"42","z":42,"ex":276.7,"lo":461.3,"hi":461.3},
{"s":"64u","z":64,"ex":352.7,"lo":457.2,"hi":457.2},{"s":"64u","z":64,"ex":351.4,"lo":439.7,"hi":477.4},{"s":"64u","z":64,"ex":347.6,"lo":430.3,"hi":486.2},{"s":"64u","z":64,"ex":341.7,"lo":428.7,"hi":487.9},{"s":"64u","z":64,"ex":335,"lo":428.9,"hi":487.5},{"s":"64u","z":64,"ex":329.1,"lo":434.3,"hi":480.1},{"s":"64u","z":64,"ex":323.3,"lo":442.4,"hi":468},{"s":"64u","z":64,"ex":318.7,"lo":455.9,"hi":455.9},
{"s":"64l","z":64,"ex":294.6,"lo":457.2,"hi":457.2},{"s":"64l","z":64,"ex":293.1,"lo":442.4,"hi":473.4},{"s":"64l","z":64,"ex":289.7,"lo":440.8,"hi":479.4},{"s":"64l","z":64,"ex":285.5,"lo":443.8,"hi":474.7},{"s":"64l","z":64,"ex":283,"lo":459.9,"hi":459.9},
{"s":"85","z":85,"ex":342.7,"lo":455.9,"hi":455.9},{"s":"85","z":85,"ex":340.9,"lo":449.1,"hi":462.6},{"s":"85","z":85,"ex":336.7,"lo":447.1,"hi":465},{"s":"85","z":85,"ex":334.2,"lo":449.8,"hi":462.6},{"s":"85","z":85,"ex":331.8,"lo":455.9,"hi":455.9}
],
"fd":[
{"s":"42","z":42,"ex":346,"lo":450,"hi":458},{"s":"42","z":42,"ex":345,"lo":445.5,"hi":461},{"s":"42","z":42,"ex":340,"lo":444.4,"hi":462.4},{"s":"42","z":42,"ex":335,"lo":445.5,"hi":459},{"s":"42","z":42,"ex":334,"lo":449,"hi":456}
],
"la":[
{"c":"o","i":0,"em":461,"ex":400},{"c":"o","i":1,"em":450,"ex":392.7},{"c":"o","i":2,"em":441.3,"ex":386.2},{"c":"o","i":3,"em":429.5,"ex":379.7},{"c":"o","i":4,"em":417.7,"ex":373.7},{"c":"o","i":5,"em":406.9,"ex":367.7},{"c":"o","i":6,"em":396.2,"ex":359.7},{"c":"o","i":7,"em":388.6,"ex":350.6},{"c":"o","i":8,"em":385.8,"ex":340.6},{"c":"o","i":9,"em":387.6,"ex":330.6},{"c":"o","i":10,"em":390.8,"ex":318.6},{"c":"o","i":11,"em":393,"ex":300.6},{"c":"o","i":12,"em":390.1,"ex":290.6},{"c":"o","i":13,"em":390.8,"ex":280.6},{"c":"o","i":14,"em":397.2,"ex":270.6},{"c":"o","i":15,"em":404.8,"ex":261.6},{"c":"o","i":16,"em":413.4,"ex":255.5},{"c":"o","i":17,"em":426.3,"ex":251},{"c":"o","i":18,"em":445.6,"ex":249.5},{"c":"o","i":19,"em":475.8,"ex":248.2},{"c":"o","i":20,"em":493,"ex":248.3},{"c":"o","i":21,"em":518.8,"ex":250.5},{"c":"o","i":22,"em":544.6,"ex":253.5},{"c":"o","i":23,"em":570.4,"ex":258.5},{"c":"o","i":24,"em":591.9,"ex":265},{"c":"o","i":25,"em":617.7,"ex":274.6},{"c":"o","i":26,"em":637.1,"ex":281.1},{"c":"o","i":27,"em":650,"ex":287.1},{"c":"o","i":28,"em":658.6,"ex":295.1},{"c":"o","i":29,"em":655.4,"ex":301.6},{"c":"o","i":30,"em":648.9,"ex":307.6},{"c":"o","i":31,"em":646.8,"ex":314.6},{"c":"o","i":32,"em":650.4,"ex":320.6},{"c":"o","i":33,"em":657.5,"ex":326.1},{"c":"o","i":34,"em":665.5,"ex":330.1},{"c":"o","i":35,"em":661.8,"ex":333.1},{"c":"o","i":36,"em":656.4,"ex":335.1},{"c":"o","i":37,"em":656.4,"ex":343.6},{"c":"o","i":38,"em":650,"ex":350.6},{"c":"o","i":39,"em":634.9,"ex":361.7},{"c":"o","i":40,"em":619.9,"ex":370.2},{"c":"o","i":41,"em":604.8,"ex":377.2},{"c":"o","i":42,"em":589.8,"ex":384.7},{"c":"o","i":43,"em":572.6,"ex":393.2},{"c":"o","i":44,"em":553,"ex":400},
{"c":"dot","i":0,"em":668,"ex":335},{"c":"dot","i":1,"em":671,"ex":336},{"c":"dot","i":2,"em":674,"ex":335},{"c":"dot","i":3,"em":671,"ex":334},{"c":"dot","i":4,"em":668,"ex":335},
{"c":"c236","i":0,"em":494,"ex":369.5},{"c":"c236","i":1,"em":482.2,"ex":368.7},{"c":"c236","i":2,"em":467.2,"ex":365.2},{"c":"c236","i":3,"em":450,"ex":361.7},{"c":"c236","i":4,"em":430.6,"ex":358.2},{"c":"c236","i":5,"em":419.8,"ex":354.6},{"c":"c236","i":6,"em":413.4,"ex":348.6},{"c":"c236","i":7,"em":412.3,"ex":340.6},{"c":"c236","i":8,"em":413.4,"ex":330.6},{"c":"c236","i":9,"em":417.7,"ex":320.6},{"c":"c236","i":10,"em":423.1,"ex":310.6},{"c":"c236","i":11,"em":426.7,"ex":303.6},{"c":"c236","i":12,"em":425.2,"ex":299.1},{"c":"c236","i":13,"em":420.9,"ex":294.6},{"c":"c236","i":14,"em":418.8,"ex":289.6},{"c":"c236","i":15,"em":419.8,"ex":283.6},{"c":"c236","i":16,"em":428.4,"ex":277.6},{"c":"c236","i":17,"em":441.3,"ex":273.6},{"c":"c236","i":18,"em":458.5,"ex":271.1},{"c":"c236","i":19,"em":484.4,"ex":270.6},{"c":"c236","i":20,"em":495.1,"ex":271.1},{"c":"c236","i":21,"em":510.2,"ex":274.1},{"c":"c236","i":22,"em":527.4,"ex":276.4},{"c":"c236","i":23,"em":544.6,"ex":279.6},{"c":"c236","i":24,"em":559.6,"ex":285.6},{"c":"c236","i":25,"em":569.3,"ex":292.6},{"c":"c236","i":26,"em":570.4,"ex":296.1},{"c":"c236","i":27,"em":569.3,"ex":300.1},{"c":"c236","i":28,"em":561.8,"ex":305.1},{"c":"c236","i":29,"em":556.4,"ex":309.6},{"c":"c236","i":30,"em":555.8,"ex":315.1},{"c":"c236","i":31,"em":561.8,"ex":323.6},{"c":"c236","i":32,"em":568.2,"ex":333.6},{"c":"c236","i":33,"em":570,"ex":340.6},{"c":"c236","i":34,"em":567.2,"ex":347.1},{"c":"c236","i":35,"em":557.5,"ex":353.6},{"c":"c236","i":36,"em":544.6,"ex":358.7},{"c":"c236","i":37,"em":529.5,"ex":363.2},{"c":"c236","i":38,"em":512.3,"ex":366.7},{"c":"c236","i":39,"em":501.6,"ex":368.7},{"c":"c236","i":40,"em":494,"ex":369.5},
{"c":"c452","i":0,"em":495.1,"ex":360},{"c":"c452","i":1,"em":475.8,"ex":359.7},{"c":"c452","i":2,"em":456.4,"ex":357.5},{"c":"c452","i":3,"em":439.2,"ex":354.9},{"c":"c452","i":4,"em":429.5,"ex":351.6},{"c":"c452","i":5,"em":425.2,"ex":346.6},{"c":"c452","i":6,"em":424.1,"ex":339.6},{"c":"c452","i":7,"em":425.2,"ex":331.6},{"c":"c452","i":8,"em":430.6,"ex":322.6},{"c":"c452","i":9,"em":439.2,"ex":315.6},{"c":"c452","i":10,"em":447.8,"ex":308.6},{"c":"c452","i":11,"em":450,"ex":304.6},{"c":"c452","i":12,"em":445.6,"ex":299.6},{"c":"c452","i":13,"em":438.1,"ex":294.6},{"c":"c452","i":14,"em":433.8,"ex":290.1},{"c":"c452","i":15,"em":436.6,"ex":284.6},{"c":"c452","i":16,"em":447.8,"ex":280.6},{"c":"c452","i":17,"em":462.9,"ex":278.4},{"c":"c452","i":18,"em":482.2,"ex":277.4},{"c":"c452","i":19,"em":496.2,"ex":278.1},{"c":"c452","i":20,"em":510.2,"ex":281.1},{"c":"c452","i":21,"em":527.4,"ex":284.6},{"c":"c452","i":22,"em":539.2,"ex":290.1},{"c":"c452","i":23,"em":544,"ex":295.1},{"c":"c452","i":24,"em":542.4,"ex":300.1},{"c":"c452","i":25,"em":533.8,"ex":305.1},{"c":"c452","i":26,"em":525.2,"ex":309.8},{"c":"c452","i":27,"em":525.2,"ex":315.1},{"c":"c452","i":28,"em":533.8,"ex":323.6},{"c":"c452","i":29,"em":541.4,"ex":333.6},{"c":"c452","i":30,"em":543.5,"ex":340.1},{"c":"c452","i":31,"em":540.3,"ex":346.6},{"c":"c452","i":32,"em":529.5,"ex":352.6},{"c":"c452","i":33,"em":512.3,"ex":356.6},{"c":"c452","i":34,"em":495.1,"ex":360},
{"c":"c668","i":0,"em":488.7,"ex":354.9},{"c":"c668","i":1,"em":469.3,"ex":354.1},{"c":"c668","i":2,"em":447.8,"ex":351.6},{"c":"c668","i":3,"em":438.1,"ex":348.6},{"c":"c668","i":4,"em":434.9,"ex":342.6},{"c":"c668","i":5,"em":435.3,"ex":334.6},{"c":"c668","i":6,"em":441.3,"ex":327.6},{"c":"c668","i":7,"em":452.1,"ex":320.6},{"c":"c668","i":8,"em":467.2,"ex":315.6},{"c":"c668","i":9,"em":477.9,"ex":310.1},{"c":"c668","i":10,"em":472.5,"ex":305.1},{"c":"c668","i":11,"em":460.7,"ex":298.6},{"c":"c668","i":12,"em":452.5,"ex":290.1},{"c":"c668","i":13,"em":459.6,"ex":285.6},{"c":"c668","i":14,"em":475.8,"ex":283.1},{"c":"c668","i":15,"em":493,"ex":283.1},{"c":"c668","i":16,"em":505.9,"ex":287.1},{"c":"c668","i":17,"em":516.6,"ex":290.6},{"c":"c668","i":18,"em":522.4,"ex":295.1},{"c":"c668","i":19,"em":518.8,"ex":300.1},{"c":"c668","i":20,"em":503.7,"ex":304.6},{"c":"c668","i":21,"em":496.2,"ex":310.1},{"c":"c668","i":22,"em":498.3,"ex":315.6},{"c":"c668","i":23,"em":505.9,"ex":322.6},{"c":"c668","i":24,"em":518.8,"ex":331.6},{"c":"c668","i":25,"em":523.7,"ex":339.6},{"c":"c668","i":26,"em":519.9,"ex":345.6},{"c":"c668","i":27,"em":505.9,"ex":350.6},{"c":"c668","i":28,"em":495.1,"ex":354.4},{"c":"c668","i":29,"em":488.7,"ex":354.9},
{"c":"c884u","i":0,"em":480.1,"ex":350.4},{"c":"c884u","i":1,"em":466.1,"ex":349.6},{"c":"c884u","i":2,"em":451,"ex":345.6},{"c":"c884u","i":3,"em":449.5,"ex":339.6},{"c":"c884u","i":4,"em":451,"ex":333.6},{"c":"c884u","i":5,"em":460.7,"ex":328.6},{"c":"c884u","i":6,"em":471.5,"ex":325.6},{"c":"c884u","i":7,"em":482.2,"ex":324.1},{"c":"c884u","i":8,"em":493,"ex":325.1},{"c":"c884u","i":9,"em":498.3,"ex":328.1},{"c":"c884u","i":10,"em":503.7,"ex":337.6},{"c":"c884u","i":11,"em":501.6,"ex":344.6},{"c":"c884u","i":12,"em":494,"ex":349.4},{"c":"c884u","i":13,"em":480.1,"ex":350.4},
{"c":"c884l","i":0,"em":489.7,"ex":300.1},{"c":"c884l","i":1,"em":495.1,"ex":299.9},{"c":"c884l","i":2,"em":499.9,"ex":295.1},{"c":"c884l","i":3,"em":495.6,"ex":289.8},{"c":"c884l","i":4,"em":484.4,"ex":289.3},{"c":"c884l","i":5,"em":477.5,"ex":290.1},{"c":"c884l","i":6,"em":475.8,"ex":295.1},{"c":"c884l","i":7,"em":482.2,"ex":298.6},{"c":"c884l","i":8,"em":489.7,"ex":300.1},
{"c":"ray","i":0,"em":394.6,"ex":400},{"c":"ray","i":1,"em":384.5,"ex":389},{"c":"ray","i":2,"em":377,"ex":379.8},{"c":"ray","i":3,"em":368,"ex":371.7},{"c":"ray","i":4,"em":359.5,"ex":364},{"c":"ray","i":5,"em":353,"ex":357},{"c":"ray","i":6,"em":344.4,"ex":347.9},{"c":"ray","i":7,"em":337.7,"ex":340.9},{"c":"ray","i":8,"em":333.6,"ex":336.2},{"c":"ray","i":9,"em":329.4,"ex":331.8},{"c":"ray","i":10,"em":330.2,"ex":327.6},{"c":"ray","i":11,"em":333.6,"ex":329.9},{"c":"ray","i":12,"em":337.7,"ex":333.4},{"c":"ray","i":13,"em":340.3,"ex":337.4},{"c":"ray","i":14,"em":350.4,"ex":345.6},{"c":"ray","i":15,"em":355.3,"ex":350.8},{"c":"ray","i":16,"em":362.8,"ex":356.6},{"c":"ray","i":17,"em":369.5,"ex":364},{"c":"ray","i":18,"em":376.3,"ex":371},{"c":"ray","i":19,"em":384.5,"ex":379.8},{"c":"ray","i":20,"em":394.6,"ex":388},{"c":"ray","i":21,"em":401.4,"ex":393.7},{"c":"ray","i":22,"em":405.5,"ex":400},
{"c":"e1","i":0,"em":324.8,"ex":324},{"c":"e1","i":1,"em":326.8,"ex":327},{"c":"e1","i":2,"em":327.8,"ex":326.4},{"c":"e1","i":3,"em":325.8,"ex":323.4},{"c":"e1","i":4,"em":324.8,"ex":324},
{"c":"e2","i":0,"em":318.8,"ex":319},{"c":"e2","i":1,"em":320.8,"ex":321.8},{"c":"e2","i":2,"em":321.8,"ex":321},{"c":"e2","i":3,"em":319.8,"ex":318.2},{"c":"e2","i":4,"em":318.8,"ex":319},
{"c":"e3","i":0,"em":313,"ex":313.4},{"c":"e3","i":1,"em":315,"ex":316.4},{"c":"e3","i":2,"em":316.2,"ex":315.8},{"c":"e3","i":3,"em":314.2,"ex":312.8},{"c":"e3","i":4,"em":313,"ex":313.4},
{"c":"e4","i":0,"em":309,"ex":309.2},{"c":"e4","i":1,"em":310.8,"ex":312.2},{"c":"e4","i":2,"em":312.2,"ex":311.8},{"c":"e4","i":3,"em":310.4,"ex":308.8},{"c":"e4","i":4,"em":309,"ex":309.2},
{"c":"e5","i":0,"em":305.6,"ex":304.4},{"c":"e5","i":1,"em":306.8,"ex":306.8},{"c":"e5","i":2,"em":308,"ex":306.4},{"c":"e5","i":3,"em":306.8,"ex":304},{"c":"e5","i":4,"em":305.6,"ex":304.4},
{"c":"e6","i":0,"em":300,"ex":300},{"c":"e6","i":1,"em":300.6,"ex":300.8},{"c":"e6","i":2,"em":301,"ex":300.2},{"c":"e6","i":3,"em":300,"ex":300}
],
"lb":[
{"c":"o","i":0,"em":459.8,"ex":380.4},{"c":"o","i":1,"em":448,"ex":379.5},{"c":"o","i":2,"em":439.5,"ex":378.1},{"c":"o","i":3,"em":431.1,"ex":374.8},{"c":"o","i":4,"em":424.4,"ex":371.7},{"c":"o","i":5,"em":414.2,"ex":365.4},{"c":"o","i":6,"em":404.1,"ex":358.7},{"c":"o","i":7,"em":395.7,"ex":351.1},{"c":"o","i":8,"em":391.5,"ex":344.8},{"c":"o","i":9,"em":393.2,"ex":334.1},{"c":"o","i":10,"em":395.7,"ex":323.4},{"c":"o","i":11,"em":399.1,"ex":313.6},{"c":"o","i":12,"em":401.6,"ex":304.6},{"c":"o","i":13,"em":399.1,"ex":294.8},{"c":"o","i":14,"em":398.2,"ex":289.4},{"c":"o","i":15,"em":400.8,"ex":280.5},{"c":"o","i":16,"em":407.5,"ex":273.4},{"c":"o","i":17,"em":417.6,"ex":267.6},{"c":"o","i":18,"em":427.7,"ex":263.5},{"c":"o","i":19,"em":441.2,"ex":261.3},{"c":"o","i":20,"em":458.1,"ex":260},{"c":"o","i":21,"em":478.3,"ex":260.8},{"c":"o","i":22,"em":496.9,"ex":263.1},{"c":"o","i":23,"em":503.6,"ex":264.9},{"c":"o","i":24,"em":520.5,"ex":267.1},{"c":"o","i":25,"em":539.1,"ex":270.2},{"c":"o","i":26,"em":552.6,"ex":273.4},{"c":"o","i":27,"em":567.7,"ex":279.2},{"c":"o","i":28,"em":581.2,"ex":285.9},{"c":"o","i":29,"em":587.1,"ex":290.3},{"c":"o","i":30,"em":587.1,"ex":294.4},{"c":"o","i":31,"em":590.5,"ex":296.2},{"c":"o","i":32,"em":593.9,"ex":294.8},{"c":"o","i":33,"em":590.5,"ex":292.8},{"c":"o","i":34,"em":587.1,"ex":293},{"c":"o","i":35,"em":574.5,"ex":293.9},{"c":"o","i":36,"em":564.4,"ex":299.3},{"c":"o","i":37,"em":559.3,"ex":304.6},{"c":"o","i":38,"em":561,"ex":310},{"c":"o","i":39,"em":571.1,"ex":319.8},{"c":"o","i":40,"em":577.9,"ex":327.9},{"c":"o","i":41,"em":581.2,"ex":335},{"c":"o","i":42,"em":579.5,"ex":344.8},{"c":"o","i":43,"em":572.8,"ex":350.2},{"c":"o","i":44,"em":559.3,"ex":356.9},{"c":"o","i":45,"em":547.5,"ex":360.5},{"c":"o","i":46,"em":532.3,"ex":365},{"c":"o","i":47,"em":517.1,"ex":369},{"c":"o","i":48,"em":505.3,"ex":372.1},{"c":"o","i":49,"em":495.2,"ex":376.1},{"c":"o","i":50,"em":478.3,"ex":379.7},{"c":"o","i":51,"em":459.8,"ex":380.4},
{"c":"u","i":0,"em":459.8,"ex":348.6},{"c":"u","i":1,"em":451.4,"ex":348},{"c":"u","i":2,"em":444.6,"ex":345.3},{"c":"u","i":3,"em":441.7,"ex":340.4},{"c":"u","i":4,"em":441.2,"ex":335},{"c":"u","i":5,"em":444.6,"ex":330.5},{"c":"u","i":6,"em":451.4,"ex":327},{"c":"u","i":7,"em":459.8,"ex":325.8},{"c":"u","i":8,"em":468.2,"ex":326.5},{"c":"u","i":9,"em":476.7,"ex":329.7},{"c":"u","i":10,"em":480.5,"ex":335},{"c":"u","i":11,"em":480.5,"ex":339.5},{"c":"u","i":12,"em":476.7,"ex":344.8},{"c":"u","i":13,"em":471.6,"ex":347.1},{"c":"u","i":14,"em":464.8,"ex":348.4},{"c":"u","i":15,"em":459.8,"ex":348.6},
{"c":"l","i":0,"em":450.2,"ex":289.9},{"c":"l","i":1,"em":456.4,"ex":291.2},{"c":"l","i":2,"em":461.5,"ex":291.5},{"c":"l","i":3,"em":466.5,"ex":291.1},{"c":"l","i":4,"em":472.1,"ex":289.9},{"c":"l","i":5,"em":466.5,"ex":286.8},{"c":"l","i":6,"em":463.2,"ex":285.9},{"c":"l","i":7,"em":458.1,"ex":286.1},{"c":"l","i":8,"em":454.7,"ex":287.2},{"c":"l","i":9,"em":450.2,"ex":289.9},
{"c":"ray","i":0,"em":395.3,"ex":400},{"c":"ray","i":1,"em":384,"ex":387.7},{"c":"ray","i":2,"em":370,"ex":372.5},{"c":"ray","i":3,"em":357,"ex":360},{"c":"ray","i":4,"em":345,"ex":347.5},{"c":"ray","i":5,"em":330,"ex":333.5},{"c":"ray","i":6,"em":313.5,"ex":315.9},{"c":"ray","i":7,"em":309.7,"ex":311.9},{"c":"ray","i":8,"em":307.2,"ex":308.9},{"c":"ray","i":9,"em":304,"ex":307.2},{"c":"ray","i":10,"em":302.1,"ex":303.7},{"c":"ray","i":11,"em":299,"ex":301.9},{"c":"ray","i":12,"em":297.1,"ex":298.7},{"c":"ray","i":13,"em":294,"ex":296.7},{"c":"ray","i":14,"em":292.7,"ex":293.5},{"c":"ray","i":15,"em":288.9,"ex":290.8},{"c":"ray","i":16,"em":288.9,"ex":288.5},{"c":"ray","i":17,"em":290.8,"ex":287.8},{"c":"ray","i":18,"em":293.3,"ex":289.1},{"c":"ray","i":19,"em":294,"ex":291.7},{"c":"ray","i":20,"em":297.7,"ex":293.5},{"c":"ray","i":21,"em":299.6,"ex":296.7},{"c":"ray","i":22,"em":304,"ex":300.2},{"c":"ray","i":23,"em":306.5,"ex":302.8},{"c":"ray","i":24,"em":309.7,"ex":306},{"c":"ray","i":25,"em":313.5,"ex":309.2},{"c":"ray","i":26,"em":315.4,"ex":311.9},{"c":"ray","i":27,"em":319.1,"ex":315.9},{"c":"ray","i":28,"em":330,"ex":326},{"c":"ray","i":29,"em":340,"ex":336},{"c":"ray","i":30,"em":357,"ex":350.7},{"c":"ray","i":31,"em":368,"ex":361.5},{"c":"ray","i":32,"em":380,"ex":372},{"c":"ray","i":33,"em":395.7,"ex":387.7},{"c":"ray","i":34,"em":406.4,"ex":400},
{"c":"dot","i":0,"em":284.2,"ex":285.1},{"c":"dot","i":1,"em":286.1,"ex":286.3},{"c":"dot","i":2,"em":288,"ex":285.1},{"c":"dot","i":3,"em":286.1,"ex":283.9},{"c":"dot","i":4,"em":284.2,"ex":285.1}
],
"lc":[
{"c":"o","i":0,"em":454.5,"ex":374},{"c":"o","i":1,"em":443.8,"ex":372.8},{"c":"o","i":2,"em":434.3,"ex":369.8},{"c":"o","i":3,"em":427.6,"ex":368.2},{"c":"o","i":4,"em":419.5,"ex":365.2},{"c":"o","i":5,"em":411.4,"ex":361.4},{"c":"o","i":6,"em":404,"ex":356},{"c":"o","i":7,"em":395.9,"ex":350.1},{"c":"o","i":8,"em":393.9,"ex":345.1},{"c":"o","i":9,"em":395,"ex":340},{"c":"o","i":10,"em":393.9,"ex":334.2},{"c":"o","i":11,"em":395.9,"ex":324.9},{"c":"o","i":12,"em":400,"ex":314.9},{"c":"o","i":13,"em":404.7,"ex":306.5},{"c":"o","i":14,"em":406.7,"ex":299.8},{"c":"o","i":15,"em":404,"ex":290.5},{"c":"o","i":16,"em":407.4,"ex":282.2},{"c":"o","i":17,"em":415.5,"ex":275.9},{"c":"o","i":18,"em":423.5,"ex":272.1},{"c":"o","i":19,"em":433,"ex":269.6},{"c":"o","i":20,"em":443.8,"ex":267.9},{"c":"o","i":21,"em":455.9,"ex":267},{"c":"o","i":22,"em":474.7,"ex":267.9},{"c":"o","i":23,"em":497.6,"ex":271.7},{"c":"o","i":24,"em":511.1,"ex":275},{"c":"o","i":25,"em":524.6,"ex":278.4},{"c":"o","i":26,"em":536.7,"ex":282.6},{"c":"o","i":27,"em":541,"ex":285.9},{"c":"o","i":28,"em":542.1,"ex":290.1},{"c":"o","i":29,"em":538,"ex":292.6},{"c":"o","i":30,"em":530,"ex":297.2},{"c":"o","i":31,"em":523.2,"ex":300.6},{"c":"o","i":32,"em":520.5,"ex":305.2},{"c":"o","i":33,"em":524.6,"ex":311.5},{"c":"o","i":34,"em":532.7,"ex":319.1},{"c":"o","i":35,"em":542.1,"ex":330},{"c":"o","i":36,"em":545.4,"ex":335.4},{"c":"o","i":37,"em":543.4,"ex":345.1},{"c":"o","i":38,"em":534,"ex":352.2},{"c":"o","i":39,"em":523.2,"ex":356.4},{"c":"o","i":40,"em":511.1,"ex":360.2},{"c":"o","i":41,"em":500.3,"ex":363.5},{"c":"o","i":42,"em":494.9,"ex":366.5},{"c":"o","i":43,"em":485.5,"ex":369.4},{"c":"o","i":44,"em":478.8,"ex":370.3},{"c":"o","i":45,"em":474.7,"ex":372.4},{"c":"o","i":46,"em":465.3,"ex":373.6},{"c":"o","i":47,"em":454.5,"ex":374},
{"c":"top","i":0,"em":400.5,"ex":400},{"c":"top","i":1,"em":400.5,"ex":393.5},{"c":"top","i":2,"em":403,"ex":396},{"c":"top","i":3,"em":405,"ex":400}
],
"ld":[
{"c":"o","i":0,"em":456,"ex":370.2},{"c":"o","i":1,"em":447.2,"ex":369.6},{"c":"o","i":2,"em":440.9,"ex":368.6},{"c":"o","i":3,"em":432.1,"ex":365.9},{"c":"o","i":4,"em":424.5,"ex":362.6},{"c":"o","i":5,"em":420.7,"ex":360},{"c":"o","i":6,"em":414.4,"ex":357.4},{"c":"o","i":7,"em":408.4,"ex":353.3},{"c":"o","i":8,"em":406.2,"ex":345.9},{"c":"o","i":9,"em":405.6,"ex":337.8},{"c":"o","i":10,"em":406.8,"ex":331.1},{"c":"o","i":11,"em":409.4,"ex":325.2},{"c":"o","i":12,"em":414.4,"ex":317.8},{"c":"o","i":13,"em":419.5,"ex":312.3},{"c":"o","i":14,"em":423.2,"ex":308.2},{"c":"o","i":15,"em":424.5,"ex":303},{"c":"o","i":16,"em":423.9,"ex":300.1},{"c":"o","i":17,"em":420.7,"ex":295.6},{"c":"o","i":18,"em":418.2,"ex":290.4},{"c":"o","i":19,"em":420.1,"ex":284.5},{"c":"o","i":20,"em":425.8,"ex":280.5},{"c":"o","i":21,"em":437.1,"ex":276.8},{"c":"o","i":22,"em":447.2,"ex":275.5},{"c":"o","i":23,"em":463.6,"ex":275.3},{"c":"o","i":24,"em":481.3,"ex":277.1},{"c":"o","i":25,"em":492.6,"ex":279.7},{"c":"o","i":26,"em":499.6,"ex":282.3},{"c":"o","i":27,"em":504.2,"ex":286.4},{"c":"o","i":28,"em":505,"ex":290.4},{"c":"o","i":29,"em":498.3,"ex":297.5},{"c":"o","i":30,"em":491.4,"ex":300.1},{"c":"o","i":31,"em":489.5,"ex":302.3},{"c":"o","i":32,"em":485.7,"ex":305.2},{"c":"o","i":33,"em":490.7,"ex":311.5},{"c":"o","i":34,"em":498.3,"ex":318.6},{"c":"o","i":35,"em":502.7,"ex":324.5},{"c":"o","i":36,"em":509,"ex":331.1},{"c":"o","i":37,"em":511.3,"ex":338.5},{"c":"o","i":38,"em":511.8,"ex":345.2},{"c":"o","i":39,"em":507.1,"ex":350.7},{"c":"o","i":40,"em":497,"ex":357.4},{"c":"o","i":41,"em":489.5,"ex":360},{"c":"o","i":42,"em":476.2,"ex":365.1},{"c":"o","i":43,"em":467.4,"ex":368.5},{"c":"o","i":44,"em":459.8,"ex":369.4},{"c":"o","i":45,"em":456,"ex":370.2},
{"c":"top","i":0,"em":400,"ex":400},{"c":"top","i":1,"em":400,"ex":393},{"c":"top","i":2,"em":403,"ex":396},{"c":"top","i":3,"em":406,"ex":400}
]
},
"vconcat":[
{"align":"none","bounds":"full","spacing":-6,"hconcat":[
{"width":1201,"height":1147,
"title":{"text":"(a)","dx":-241,"offset":-66},
"layer":[
{"data":{"name":"fa"},"mark":{"type":"area","orient":"horizontal","interpolate":"catmull-rom","clip":true},
"encoding":{"detail":{"field":"s"},
"x":{"field":"lo","type":"quantitative","scale":{"domain":[250,700],"nice":false,"zero":false},"axis":{"values":[300,400,500,600,700],"tickSize":-22,"labelPadding":44,"title":"Eₘ(nm)","titleX":554,"titleY":104}},
"x2":{"field":"hi"},
"y":{"field":"ex","type":"quantitative","scale":{"domain":[200,400],"nice":false,"zero":false},"axis":{"values":[200,250,300,350,400],"tickSize":-22,"labelPadding":50,"title":"Eₓ(nm)","titleX":-158,"titleY":628}},
"color":{"field":"z","type":"quantitative","legend":null,"scale":{"domain":[20,290,560,830,1078],"range":["#0000ff","#00ffff","#00ff00","#ffff00","#ff0000"],"interpolate":"rgb"}}}},
{"data":{"name":"la"},"mark":{"type":"line","color":"#6e6e6e","strokeWidth":3,"interpolate":"catmull-rom","clip":true},
"encoding":{"detail":{"field":"c"},"order":{"field":"i"},
"x":{"field":"em","type":"quantitative","axis":{"orient":"bottom","values":[350,450,550,650],"tickSize":-11,"labels":false,"title":null}},
"y":{"field":"ex","type":"quantitative","axis":{"orient":"left","values":[225,275,325,375],"tickSize":-11,"labels":false,"title":null}}}}
],
"resolve":{"axis":{"x":"independent","y":"independent"}}},
{"width":1191,"height":1151,
"view":{"fill":null,"stroke":null},
"title":{"text":"(b)","dx":-237,"offset":-74},
"layer":[
{"data":{"name":"box"},"mark":{"type":"rect","fill":"#0000ff","stroke":"#000000","strokeWidth":8},
"encoding":{"x":{"field":"x1","type":"quantitative","axis":null,"scale":{"domain":[250,700],"nice":false,"zero":false}},"x2":{"field":"x2"},"y":{"field":"y1","type":"quantitative","axis":null,"scale":{"domain":[200,400],"nice":false,"zero":false,"range":[1151,9]}},"y2":{"field":"y2"}}},
{"data":{"name":"fb"},"mark":{"type":"area","orient":"horizontal","interpolate":"catmull-rom"},
"encoding":{"detail":{"field":"s"},
"x":{"field":"lo","type":"quantitative","axis":{"values":[300,400,500,600,700],"tickSize":-22,"labelPadding":44,"title":"Eₘ(nm)","titleX":557,"titleY":110}},
"x2":{"field":"hi"},
"y":{"field":"ex","type":"quantitative","axis":{"values":[200,250,300,350,400],"tickSize":-22,"labelPadding":50,"title":"Eₓ(nm)","titleX":-145,"titleY":637}},
"color":{"field":"z","type":"quantitative","legend":null,"scale":{"domain":[20,290,560,830,1078],"range":["#0000ff","#00ffff","#00ff00","#ffff00","#ff0000"],"interpolate":"rgb"}}}},
{"data":{"name":"lb"},"mark":{"type":"line","color":"#6e6e6e","strokeWidth":3,"interpolate":"catmull-rom"},
"encoding":{"detail":{"field":"c"},"order":{"field":"i"},
"x":{"field":"em","type":"quantitative","axis":{"orient":"bottom","values":[350,450,550,650],"tickSize":-11,"labels":false,"title":null}},
"y":{"field":"ex","type":"quantitative","axis":{"orient":"left","values":[225,275,325,375],"tickSize":-11,"labels":false,"title":null}}}}
],
"resolve":{"axis":{"x":"independent","y":"independent"}}}
]},
{"align":"none","bounds":"full","spacing":-1,"hconcat":[
{"width":1199,"height":1140,
"view":{"fill":null,"stroke":null},
"title":{"text":"(c)","dx":-245,"offset":-65},
"layer":[
{"data":{"name":"box"},"mark":{"type":"rect","fill":"#0000ff","stroke":"#000000","strokeWidth":8},
"encoding":{"x":{"field":"x1","type":"quantitative","axis":null,"scale":{"domain":[250,700],"nice":false,"zero":false,"range":[6,1199]}},"x2":{"field":"x2"},"y":{"field":"y1","type":"quantitative","axis":null,"scale":{"domain":[200,400],"nice":false,"zero":false}},"y2":{"field":"y2"}}},
{"data":{"name":"fc"},"mark":{"type":"area","orient":"horizontal","interpolate":"catmull-rom"},
"encoding":{"detail":{"field":"s"},
"x":{"field":"lo","type":"quantitative","axis":{"values":[300,400,500,600,700],"tickSize":-22,"labelPadding":44,"title":"Eₘ(nm)","titleX":571,"titleY":112}},
"x2":{"field":"hi"},
"y":{"field":"ex","type":"quantitative","axis":{"offset":-6,"values":[200,250,300,350,400],"tickSize":-22,"labelPadding":50,"title":"Eₓ(nm)","titleX":-164,"titleY":626}},
"color":{"field":"z","type":"quantitative","legend":null,"scale":{"domain":[20,290,560,830,1078],"range":["#0000ff","#00ffff","#00ff00","#ffff00","#ff0000"],"interpolate":"rgb"}}}},
{"data":{"name":"lc"},"mark":{"type":"line","color":"#6e6e6e","strokeWidth":3,"interpolate":"catmull-rom"},
"encoding":{"detail":{"field":"c"},"order":{"field":"i"},
"x":{"field":"em","type":"quantitative","axis":{"orient":"bottom","values":[350,450,550,650],"tickSize":-11,"labels":false,"title":null}},
"y":{"field":"ex","type":"quantitative","axis":{"orient":"left","offset":-6,"values":[225,275,325,375],"tickSize":-11,"labels":false,"title":null}}}}
],
"resolve":{"axis":{"x":"independent","y":"independent"}}},
{"align":"none","bounds":"full","spacing":-31,"hconcat":[
{"width":1189,"height":1150,
"view":{"fill":null,"stroke":null},
"title":{"text":"(d)","dx":-239,"offset":-75},
"layer":[
{"data":{"name":"box"},"mark":{"type":"rect","fill":"#0000ff","stroke":"#000000","strokeWidth":8},
"encoding":{"x":{"field":"x1","type":"quantitative","axis":null,"scale":{"domain":[250,700],"nice":false,"zero":false}},"x2":{"field":"x2"},"y":{"field":"y1","type":"quantitative","axis":null,"scale":{"domain":[200,400],"nice":false,"zero":false,"range":[1150,12]}},"y2":{"field":"y2"}}},
{"data":{"name":"fd"},"mark":{"type":"area","orient":"horizontal","interpolate":"catmull-rom"},
"encoding":{"detail":{"field":"s"},
"x":{"field":"lo","type":"quantitative","axis":{"values":[300,400,500,600,700],"tickSize":-22,"labelPadding":44,"title":"Eₘ(nm)","titleX":550,"titleY":118}},
"x2":{"field":"hi"},
"y":{"field":"ex","type":"quantitative","axis":{"values":[200,250,300,350,400],"tickSize":-22,"labelPadding":50,"title":"Eₓ(nm)","titleX":-147,"titleY":638}},
"color":{"field":"z","type":"quantitative","legend":null,"scale":{"domain":[20,290,560,830,1078],"range":["#0000ff","#00ffff","#00ff00","#ffff00","#ff0000"],"interpolate":"rgb"}}}},
{"data":{"name":"ld"},"mark":{"type":"line","color":"#6e6e6e","strokeWidth":3,"interpolate":"catmull-rom"},
"encoding":{"detail":{"field":"c"},"order":{"field":"i"},
"x":{"field":"em","type":"quantitative","axis":{"orient":"bottom","values":[350,450,550,650],"tickSize":-11,"labels":false,"title":null}},
"y":{"field":"ex","type":"quantitative","axis":{"orient":"left","values":[225,275,325,375],"tickSize":-11,"labels":false,"title":null}}}}
],
"resolve":{"axis":{"x":"independent","y":"independent"}}},
{"width":125,"height":1150,
"view":{"fill":null,"stroke":null},
"layer":[
{"data":{"name":"bar"},"mark":{"type":"rect"},
"encoding":{
"y":{"field":"lo","type":"quantitative","scale":{"domain":[20,1100],"nice":false,"zero":false,"range":[1150,8]},"axis":{"orient":"right","values":[20,236,452,668,884,1100],"format":"d","tickSize":22,"tickWidth":4,"tickColor":"#333333","labelPadding":4,"labelFontSize":68,"title":null}},
"y2":{"field":"hi"},
"color":{"field":"z","type":"quantitative","legend":null,"scale":{"domain":[20,290,560,830,1078],"range":["#0000ff","#00ffff","#00ff00","#ffff00","#ff0000"],"interpolate":"rgb"}}}},
{"data":{"name":"barbox"},"mark":{"type":"rect","fill":null,"stroke":"#333333","strokeWidth":5},
"encoding":{"y":{"field":"y1","type":"quantitative"},"y2":{"field":"y2"}}}
]}
]}
]}
]
}
